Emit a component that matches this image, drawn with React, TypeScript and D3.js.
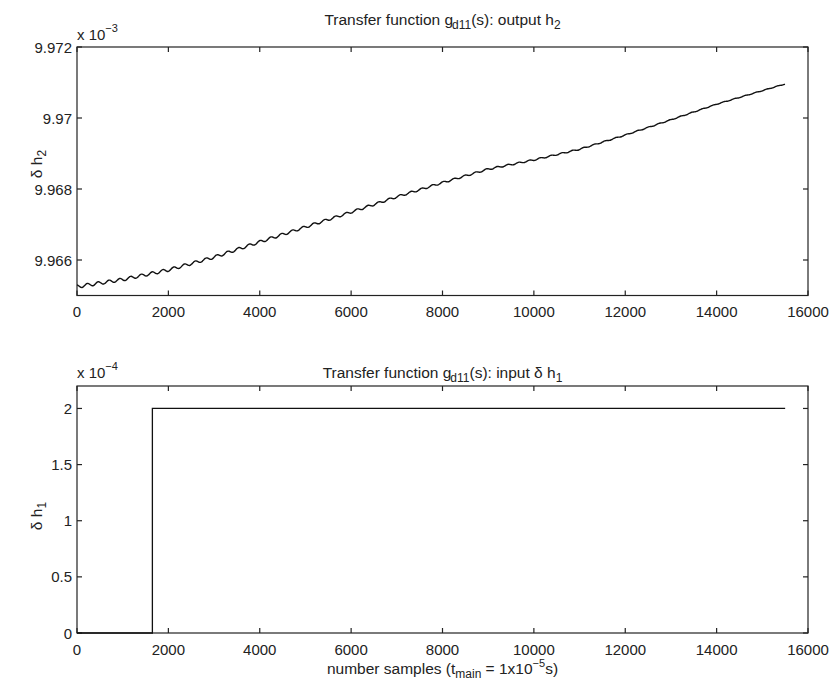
import React from "react";
import * as d3 from "d3";

// ---- Data (top plot values in units of 1e-3, bottom in units of 1e-4) ----
const trendX = [0, 1000, 2000, 3000, 4000, 5000, 6000, 7000, 8000, 9000, 10000, 11000, 12000, 13000, 14000, 15500];
const trendY = [9.96525, 9.96545, 9.96572, 9.96608, 9.96651, 9.96693, 9.96735, 9.96778, 9.96818, 9.96856, 9.96882, 9.96912, 9.96952, 9.96995, 9.97039, 9.97096];
const rippleX = [0, 4000, 8000, 12000, 15500];
const rippleAmp = [0.000045, 0.000038, 0.000026, 0.000013, 0.000008];
const ripplePeriod = 236;
const ripplePhase = 1.78;

const stepX = [0, 1650, 1650, 15500];
const stepY = [0, 0, 2, 2];

const xTicks = [0, 2000, 4000, 6000, 8000, 10000, 12000, 14000, 16000];
const topYTicks = [9.966, 9.968, 9.97, 9.972];
const topYLabels = ["9.966", "9.968", "9.97", "9.972"];
const botYTicks = [0, 0.5, 1, 1.5, 2];
const botYLabels = ["0", "0.5", "1", "1.5", "2"];

const W = 832;
const H = 685;
const L = 77;
const R = 808;
const FONT = "'Liberation Sans', Arial, Helvetica, sans-serif";
const TICK_FS = 15;
const LABEL_FS = 15.5;

export default function App() {
  const x = d3.scaleLinear().domain([0, 16000]).range([L, R]);
  const yTop = d3.scaleLinear().domain([9.965, 9.972]).range([295.5, 47]);
  const yBot = d3.scaleLinear().domain([0, 2.2]).range([633, 386]);

  const trend = d3.scaleLinear().domain(trendX).range(trendY);
  const amp = d3.scaleLinear().domain(rippleX).range(rippleAmp);
  const samples = d3.range(0, 15500 + 1, 15);
  const topPts: [number, number][] = samples.map((s) => [
    s,
    trend(s) + amp(s) * Math.sin((2 * Math.PI * s) / ripplePeriod + ripplePhase),
  ]);
  const topLine = d3
    .line<[number, number]>()
    .x((d) => x(d[0]))
    .y((d) => yTop(d[1]))
    .curve(d3.curveMonotoneX)(topPts);

  const botLine = d3
    .line<number>()
    .x((_, i) => x(stepX[i]))
    .y((d) => yBot(d))(stepY);

  const tickLen = 5;
  const axisColor = "#222";

  const renderFrame = (
    y: d3.ScaleLinear<number, number>,
    yTicks: number[],
    yLabels: string[],
    top: number,
    bottom: number
  ) => (
    <g>
      <rect x={L} y={top} width={R - L} height={bottom - top} fill="none" stroke={axisColor} strokeWidth={1.2} />
      {xTicks.map((t) => (
        <g key={"x" + t}>
          <line x1={x(t)} x2={x(t)} y1={bottom} y2={bottom - tickLen} stroke={axisColor} strokeWidth={1.2} />
          <line x1={x(t)} x2={x(t)} y1={top} y2={top + tickLen} stroke={axisColor} strokeWidth={1.2} />
          <text x={x(t)} y={bottom + 21.5} textAnchor="middle" fontSize={TICK_FS} fontFamily={FONT} fill="#222">
            {t}
          </text>
        </g>
      ))}
      {yTicks.map((t, i) => (
        <g key={"y" + t}>
          <line x1={L} x2={L + tickLen} y1={y(t)} y2={y(t)} stroke={axisColor} strokeWidth={1.2} />
          <line x1={R} x2={R - tickLen} y1={y(t)} y2={y(t)} stroke={axisColor} strokeWidth={1.2} />
          <text x={L - 5} y={y(t) + 5.5} textAnchor="end" fontSize={TICK_FS} fontFamily={FONT} fill="#222">
            {yLabels[i]}
          </text>
        </g>
      ))}
    </g>
  );

  return (
    <svg
      width={W}
      height={H}
      viewBox={`0 0 ${W} ${H}`}
      style={{ position: "absolute", left: 0, top: 0, background: "#fff" }}
    >
      <rect x={0} y={0} width={W} height={H} fill="#fff" />

      {/* Top plot */}
      {renderFrame(yTop, topYTicks, topYLabels, 47, 295.5)}
      <path d={topLine || ""} fill="none" stroke="#111" strokeWidth={1.4} />
      <text x={x(8000)} y={25} textAnchor="middle" fontSize={LABEL_FS} fontFamily={FONT} fill="#222">
        Transfer function g
        <tspan dy={4} fontSize={12} dx={-1}>d11</tspan>
        <tspan dy={-4}>(s): output h</tspan>
        <tspan dy={4} fontSize={12}>2</tspan>
      </text>
      <text x={L} y={40} fontSize={TICK_FS} fontFamily={FONT} fill="#222">
        x 10
        <tspan dy={-8} fontSize={11}>−3</tspan>
      </text>
      <text
        transform={`translate(42, 164) rotate(-90)`}
        textAnchor="middle"
        fontSize={LABEL_FS}
        fontFamily={FONT}
        fill="#222"
      >
        δ h
        <tspan dy={4} fontSize={12}>2</tspan>
      </text>

      {/* Bottom plot */}
      {renderFrame(yBot, botYTicks, botYLabels, 386, 633)}
      <path d={botLine || ""} fill="none" stroke="#111" strokeWidth={1.3} />
      <text x={x(8000)} y={378} textAnchor="middle" fontSize={LABEL_FS} fontFamily={FONT} fill="#222">
        Transfer function g
        <tspan dy={4} fontSize={12} dx={-1}>d11</tspan>
        <tspan dy={-4}>(s): input δ h</tspan>
        <tspan dy={4} fontSize={12}>1</tspan>
      </text>
      <text x={L} y={378} fontSize={TICK_FS} fontFamily={FONT} fill="#222">
        x 10
        <tspan dy={-8} fontSize={11}>−4</tspan>
      </text>
      <text
        transform={`translate(42, 516) rotate(-90)`}
        textAnchor="middle"
        fontSize={LABEL_FS}
        fontFamily={FONT}
        fill="#222"
      >
        δ h
        <tspan dy={4} fontSize={12}>1</tspan>
      </text>
      <text x={x(8000)} y={674} textAnchor="middle" fontSize={LABEL_FS} fontFamily={FONT} fill="#222">
        number samples (t
        <tspan dy={4} fontSize={12}>main</tspan>
        <tspan dy={-4}> = 1x10</tspan>
        <tspan dy={-7} fontSize={11}>−5</tspan>
        <tspan dy={7}>s)</tspan>
      </text>
    </svg>
  );
}
